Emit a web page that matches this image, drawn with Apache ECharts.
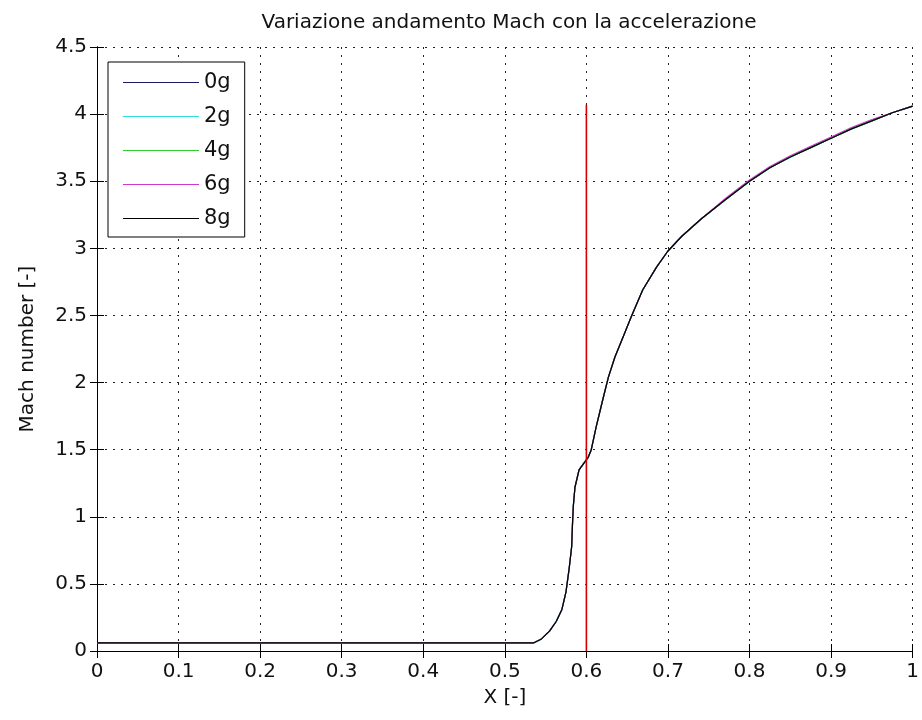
<!DOCTYPE html>
<html>
<head>
<meta charset="utf-8">
<script src="https://cdn.jsdelivr.net/npm/echarts@6/dist/echarts.min.js"></script>
<style>
html,body{margin:0;padding:0;background:#fff;}
#chart{width:922px;height:720px;}
</style>
</head>
<body>
<div id="chart"></div>
<script>
// ---- data ----
var titleText = 'Variazione andamento Mach con la accelerazione';
var xName = 'X [-]';
var yName = 'Mach number [-]';
var seriesNames = ['0g', '2g', '4g', '6g', '8g'];
var seriesColors = ['#1c1c66', '#30dede', '#30cc30', '#cc38cc', '#000000'];

var xVals = [0, 0.1, 0.2, 0.3, 0.4, 0.5, 0.535, 0.545, 0.555, 0.563, 0.570, 0.575, 0.579, 0.582, 0.583, 0.584, 0.586, 0.591, 0.597, 0.602, 0.606, 0.612, 0.620, 0.627, 0.635, 0.645, 0.655, 0.669, 0.686, 0.700, 0.717, 0.741, 0.770, 0.800, 0.825, 0.850, 0.875, 0.900, 0.925, 0.950, 0.975, 1.000];
var mach0g = [0.06, 0.06, 0.06, 0.06, 0.06, 0.06, 0.06, 0.09, 0.15, 0.22, 0.31, 0.44, 0.62, 0.78, 0.95, 1.08, 1.22, 1.35, 1.40, 1.44, 1.50, 1.67, 1.87, 2.04, 2.19, 2.34, 2.49, 2.69, 2.86, 2.98, 3.09, 3.22, 3.36, 3.50, 3.60, 3.68, 3.75, 3.82, 3.89, 3.95, 4.01, 4.06];
var mach2g = [0.06, 0.06, 0.06, 0.06, 0.06, 0.06, 0.06, 0.09, 0.15, 0.22, 0.31, 0.44, 0.62, 0.78, 0.95, 1.08, 1.22, 1.35, 1.40, 1.44, 1.50, 1.67, 1.87, 2.04, 2.19, 2.34, 2.49, 2.69, 2.86, 2.98, 3.09, 3.22, 3.36, 3.50, 3.60, 3.68, 3.75, 3.82, 3.89, 3.95, 4.01, 4.06];
var mach4g = [0.06, 0.06, 0.06, 0.06, 0.06, 0.06, 0.06, 0.09, 0.15, 0.22, 0.31, 0.44, 0.62, 0.78, 0.95, 1.08, 1.22, 1.35, 1.40, 1.44, 1.50, 1.67, 1.87, 2.04, 2.19, 2.34, 2.49, 2.69, 2.86, 2.98, 3.09, 3.22, 3.36, 3.50, 3.60, 3.68, 3.75, 3.82, 3.89, 3.95, 4.01, 4.06];
var mach6g = [0.06, 0.06, 0.06, 0.06, 0.06, 0.06, 0.06, 0.09, 0.15, 0.22, 0.31, 0.44, 0.62, 0.78, 0.95, 1.08, 1.22, 1.35, 1.40, 1.44, 1.50, 1.67, 1.87, 2.04, 2.19, 2.34, 2.49, 2.69, 2.86, 2.98, 3.09, 3.22, 3.37, 3.51, 3.61, 3.69, 3.76, 3.83, 3.90, 3.96, 4.01, 4.06];
var mach8g = [0.06, 0.06, 0.06, 0.06, 0.06, 0.06, 0.06, 0.09, 0.15, 0.22, 0.31, 0.44, 0.62, 0.78, 0.95, 1.08, 1.22, 1.35, 1.40, 1.44, 1.50, 1.67, 1.87, 2.04, 2.19, 2.34, 2.49, 2.69, 2.86, 2.98, 3.09, 3.22, 3.36, 3.50, 3.60, 3.68, 3.75, 3.82, 3.89, 3.95, 4.01, 4.06];
var throatX = [0.6, 0.6];
var throatY = [0, 4.07];
var xTicks = [0, 0.1, 0.2, 0.3, 0.4, 0.5, 0.6, 0.7, 0.8, 0.9, 1];
var yTicks = [0, 0.5, 1, 1.5, 2, 2.5, 3, 3.5, 4, 4.5];

// ---- chart ----
var FONT = 'DejaVu Sans';
var allY = [mach0g, mach2g, mach4g, mach6g, mach8g];
function pairs(xs, ys) { return xs.map(function (x, i) { return [x, ys[i]]; }); }

var series = seriesNames.map(function (n, k) {
  return {
    name: n, type: 'line', data: pairs(xVals, allY[k]),
    symbol: 'none', showSymbol: false, smooth: false,
    lineStyle: { color: seriesColors[k], width: 1.2 },
    itemStyle: { color: seriesColors[k] },
    animation: false, z: 3 + k
  };
});
series.push({
  name: 'throat', type: 'line', data: pairs(throatX, throatY),
  symbol: 'none', lineStyle: { color: '#d40000', width: 1.6 },
  animation: false, z: 10
});

var gridLine = { show: true, lineStyle: { color: '#222', type: [2, 6], width: 1 } };
var axisLine = { show: true, lineStyle: { color: '#000', width: 1 } };
var tick = { show: true, inside: true, length: 7, lineStyle: { color: '#000' } };
var lbl = { fontFamily: FONT, fontSize: 20, color: '#111' };

var chart = echarts.init(document.getElementById('chart'), null, { renderer: 'canvas' });
chart.setOption({
  backgroundColor: '#fff',
  animation: false,
  title: {
    text: titleText, left: 504, top: 8, textAlign: 'center',
    textStyle: { fontFamily: FONT, fontSize: 20, fontWeight: 'normal', color: '#111' }
  },
  legend: {
    data: seriesNames, orient: 'vertical', left: 108, top: 62,
    itemWidth: 76, itemHeight: 20, itemGap: 13,
    padding: [10, 14, 8, 15],
    icon: 'path://M0,0L76,0L76,1.2L0,1.2Z',
    backgroundColor: '#fff', borderColor: '#000', borderWidth: 1,
    textStyle: { fontFamily: FONT, fontSize: 21, lineHeight: 20, color: '#111' }
  },
  grid: { left: 97, right: 8, top: 47, bottom: 69, containLabel: false },
  xAxis: [{
    type: 'value', min: 0, max: 1, interval: 0.1, position: 'bottom',
    name: xName, nameLocation: 'middle', nameGap: 37,
    nameTextStyle: { fontFamily: FONT, fontSize: 20, color: '#111' },
    axisLine: axisLine, axisTick: tick, splitLine: gridLine,
    axisLabel: Object.assign({ margin: 11, showMinLabel: true, showMaxLabel: true,
      formatter: function (v) { var i = Math.round(v * 10); return String(xTicks[i]); } }, lbl)
  }, {
    type: 'value', min: 0, max: 1, interval: 0.1, position: 'top',
    axisLine: axisLine, axisTick: tick, splitLine: { show: false }, axisLabel: { show: false }
  }],
  yAxis: [{
    type: 'value', min: 0, max: 4.5, interval: 0.5, position: 'left',
    name: yName, nameLocation: 'middle', nameGap: 59, nameRotate: 90,
    nameTextStyle: { fontFamily: FONT, fontSize: 20, color: '#111' },
    axisLine: axisLine, axisTick: tick, splitLine: gridLine,
    axisLabel: Object.assign({ margin: 10, showMinLabel: true, showMaxLabel: true,
      formatter: function (v) { var i = Math.round(v * 2); return String(yTicks[i]); } }, lbl)
  }, {
    type: 'value', min: 0, max: 4.5, interval: 0.5, position: 'right',
    axisLine: axisLine, axisTick: tick, splitLine: { show: false }, axisLabel: { show: false }
  }],
  series: series
});
</script>
</body>
</html>
